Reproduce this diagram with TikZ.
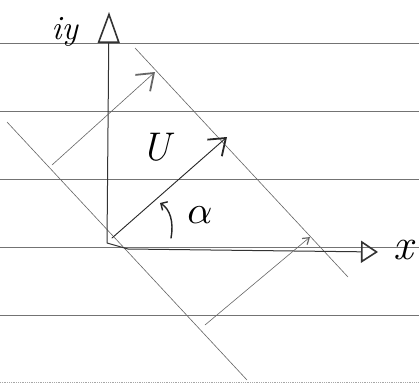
\documentclass[tikz,border=0pt]{standalone}
\usetikzlibrary{arrows.meta}
\begin{document}
\begin{tikzpicture}[x=1pt,y=-1pt,
  ruled/.style={draw=black!55,line width=0.9pt},
  faint/.style={draw=black!35,line width=0.8pt,densely dotted},
  diag/.style={draw=black!60,line width=0.6pt},
  axisline/.style={draw=black!80,line width=1pt},
  pen/.style={draw=black!85,line width=0.9pt,line cap=round},
  lbl/.style={inner sep=0pt,text=black}]
\useasboundingbox (0,0) rectangle (419,383);
\fill[white] (0,0) rectangle (419,383);
% ruled paper lines
\foreach \yy in {43,111,179,247,315} \draw[ruled] (0,\yy) -- (419,\yy);
\draw[faint] (0,382) -- (419,382);
% points
\coordinate (O) at (107,243);
\coordinate (ytip) at (109,12);
\coordinate (xtip) at (378,252);
\coordinate (xcorner) at (128,249);
\coordinate (d1a) at (135,48);
\coordinate (d1b) at (348,277);
\coordinate (d2a) at (7,122);
\coordinate (d2b) at (247,380);
\coordinate (a1s) at (52,165);
\coordinate (a1e) at (155,72);
\coordinate (us) at (112,238);
\coordinate (ue) at (227,137);
\coordinate (a2s) at (205,325);
\coordinate (a2e) at (310,237);
\coordinate (als) at (171,238);
\coordinate (ale) at (160,203);
% diagonal lines
\draw[diag] (d1a) -- (d1b);
\draw[diag] (d2a) -- (d2b);
% axes
\draw[axisline,-{Triangle[open,length=31pt,width=22pt,line width=1.6pt]}] (O) -- (ytip);
\draw[axisline,-{Triangle[open,length=17pt,width=22pt,line width=1.6pt]}] (O) -- (xcorner) -- (xtip);
% arrows
\draw[diag,-{Straight Barb[length=15pt,width=22pt,line width=1.8pt]}] (a1s) -- (a1e);
\draw[pen,-{Straight Barb[length=15pt,width=22pt,line width=1.8pt]}] (us) -- (ue);
\draw[diag,-{Straight Barb[length=6pt,width=8pt,line width=1.2pt]}] (a2s) -- (a2e);
\draw[pen,line width=1.4pt,-{Straight Barb[length=5pt,width=10pt,line width=1.4pt]}] (als) .. controls (174,222) and (170,209) .. (ale);
% labels
\node[lbl,font=\fontsize{34}{34}\selectfont] (iy) at (65,32) {\textit{iy}};
\node[lbl,font=\fontsize{40}{40}\selectfont] (U) at (158,147) {\textit{U}};
\node[lbl] (alpha) at (200,215) {\scalebox{3.9}{$\alpha$}};
\node[lbl,font=\fontsize{44}{44}\selectfont] (xl) at (405,250) {\textit{x}};
\end{tikzpicture}
\end{document}
